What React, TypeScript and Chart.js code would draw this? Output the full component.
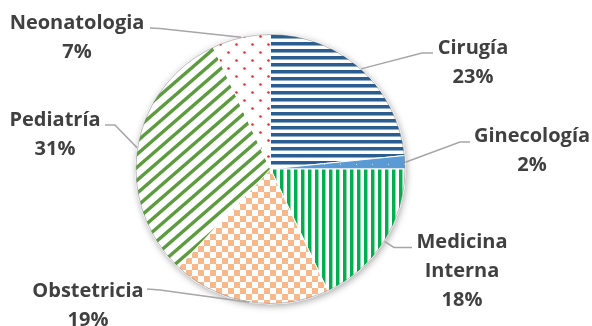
import React, { useEffect, useRef } from "react";
import { Chart, registerables } from "chart.js";

Chart.register(...registerables);

const categories = ["Cirugía", "Ginecología", "Medicina Interna", "Obstetricia", "Pediatría", "Neonatologia"];
const shares = [23.4, 1.6, 18.0, 19.0, 31.0, 7.0];
const pctLabels = ["23%", "2%", "18%", "19%", "31%", "7%"];

// layout (label text anchors and leader line geometry)
const labelAnchors = [
  [473, 54], [532, 142], [462, 248], [88, 297], [55, 126], [77, 29],
];
const leaderStarts = [
  [433, 53], [470, 142], [412, 247.5], [147, 289], [105, 125], [150, 28],
];
const leaderElbows = [
  [422, 53], [460, 142], [394, 247.5], [160, 290], [115, 125], [160, 28.5],
];
const LINE_H = 29;

function makePattern(w: number, h: number, draw: (c: CanvasRenderingContext2D, w: number, h: number) => void) {
  const cv = document.createElement("canvas");
  cv.width = w;
  cv.height = h;
  const c = cv.getContext("2d")!;
  draw(c, w, h);
  return c.createPattern(cv, "repeat")!;
}

function buildPatterns() {
  const cir = makePattern(8, 7, (c, w, h) => {
    c.fillStyle = "#ffffff"; c.fillRect(0, 0, w, h);
    c.fillStyle = "#2a5d90"; c.fillRect(0, 0, w, 3);
    c.fillStyle = "#8fa9c6"; c.fillRect(0, 3, w, 1);
  });
  const gin = makePattern(16, 16, (c, w, h) => {
    c.fillStyle = "#5b9bd5"; c.fillRect(0, 0, w, h);
    c.fillStyle = "#c6dcf1"; c.fillRect(4, 4, 1, 1); c.fillRect(12, 12, 1, 1);
  });
  const mi = makePattern(7, 8, (c, w, h) => {
    c.fillStyle = "#ffffff"; c.fillRect(0, 0, w, h);
    c.fillStyle = "#00b050"; c.fillRect(0, 0, 3, h);
    c.fillStyle = "#8ad9a8"; c.fillRect(3, 0, 1, h);
  });
  const obs = makePattern(12, 12, (c, w, h) => {
    c.fillStyle = "#ffffff"; c.fillRect(0, 0, w, h);
    c.fillStyle = "#f9b88a"; c.fillRect(0, 0, 6, 6); c.fillRect(6, 6, 6, 6);
  });
  const ped = makePattern(15, 13, (c, w, h) => {
    c.fillStyle = "#ffffff"; c.fillRect(0, 0, w, h);
    c.strokeStyle = "#5d9c3e"; c.lineWidth = 3.4;
    const t = 0.3;
    for (let k = -1; k <= 1; k++) {
      c.beginPath();
      c.moveTo(k * w - t * w, h + t * h);
      c.lineTo(k * w + w + t * w, -t * h);
      c.stroke();
    }
  });
  const neo = makePattern(16, 16, (c, w, h) => {
    c.fillStyle = "#ffffff"; c.fillRect(0, 0, w, h);
    c.fillStyle = "#f02828";
    c.beginPath(); c.arc(4.5, 4.5, 1.3, 0, Math.PI * 2); c.fill();
    c.beginPath(); c.arc(12.5, 12.5, 1.3, 0, Math.PI * 2); c.fill();
  });
  return [cir, gin, mi, obs, ped, neo];
}

export default function App() {
  const ref = useRef<HTMLCanvasElement>(null);
  useEffect(() => {
    document.body.style.margin = "0";
    const canvas = ref.current!;
    const patterns = buildPatterns();

    const shadowPlugin = {
      id: "pieShadow",
      beforeDatasetsDraw(chart: any) {
        const arc = chart.getDatasetMeta(0).data[0];
        if (!arc) return;
        const ctx = chart.ctx;
        ctx.save();
        ctx.shadowColor = "rgba(0,0,0,0.35)";
        ctx.shadowBlur = 7;
        ctx.shadowOffsetX = 1;
        ctx.shadowOffsetY = 2;
        ctx.fillStyle = "#ffffff";
        ctx.beginPath();
        ctx.arc(arc.x, arc.y, arc.outerRadius, 0, Math.PI * 2);
        ctx.fill();
        ctx.restore();
      },
      afterDatasetsDraw(chart: any) {
        const ctx = chart.ctx;
        const meta = chart.getDatasetMeta(0);
        ctx.save();
        ctx.strokeStyle = "rgba(120,120,120,0.5)";
        ctx.lineWidth = 1;
        const a0 = meta.data[0];
        ctx.beginPath();
        ctx.arc(a0.x, a0.y, a0.outerRadius - 0.5, 0, Math.PI * 2);
        ctx.stroke();
        meta.data.forEach((arc: any, i: number) => {
          const mid = (arc.startAngle + arc.endAngle) / 2;
          const ex = arc.x + Math.cos(mid) * arc.outerRadius;
          const ey = arc.y + Math.sin(mid) * arc.outerRadius;
          ctx.strokeStyle = "#a6a6a6";
          ctx.lineWidth = 1.5;
          ctx.beginPath();
          ctx.moveTo(leaderStarts[i][0], leaderStarts[i][1]);
          ctx.lineTo(leaderElbows[i][0], leaderElbows[i][1]);
          ctx.lineTo(ex, ey);
          ctx.stroke();
          const lines = [...categories[i].split(" "), pctLabels[i]];
          ctx.fillStyle = "#404040";
          ctx.font = 'bold 20px "Open Sans"';
          ctx.textAlign = "center";
          ctx.textBaseline = "alphabetic";
          lines.forEach((t, j) => {
            ctx.fillText(t, labelAnchors[i][0], labelAnchors[i][1] + j * LINE_H);
          });
        });
        ctx.restore();
      },
    };

    const chart = new Chart(canvas, {
      type: "pie",
      data: {
        labels: categories,
        datasets: [
          {
            data: shares,
            backgroundColor: patterns as any,
            borderColor: "#ffffff",
            borderWidth: 1,
          },
        ],
      },
      options: {
        responsive: false,
        animation: false,
        layout: { padding: { left: 135, right: 186, top: 33, bottom: 21 } },
        plugins: { legend: { display: false }, tooltip: { enabled: false } },
      },
      plugins: [shadowPlugin],
    });
    return () => chart.destroy();
  }, []);
  return <canvas ref={ref} width={592} height={326} style={{ display: "block" }} />;
}
